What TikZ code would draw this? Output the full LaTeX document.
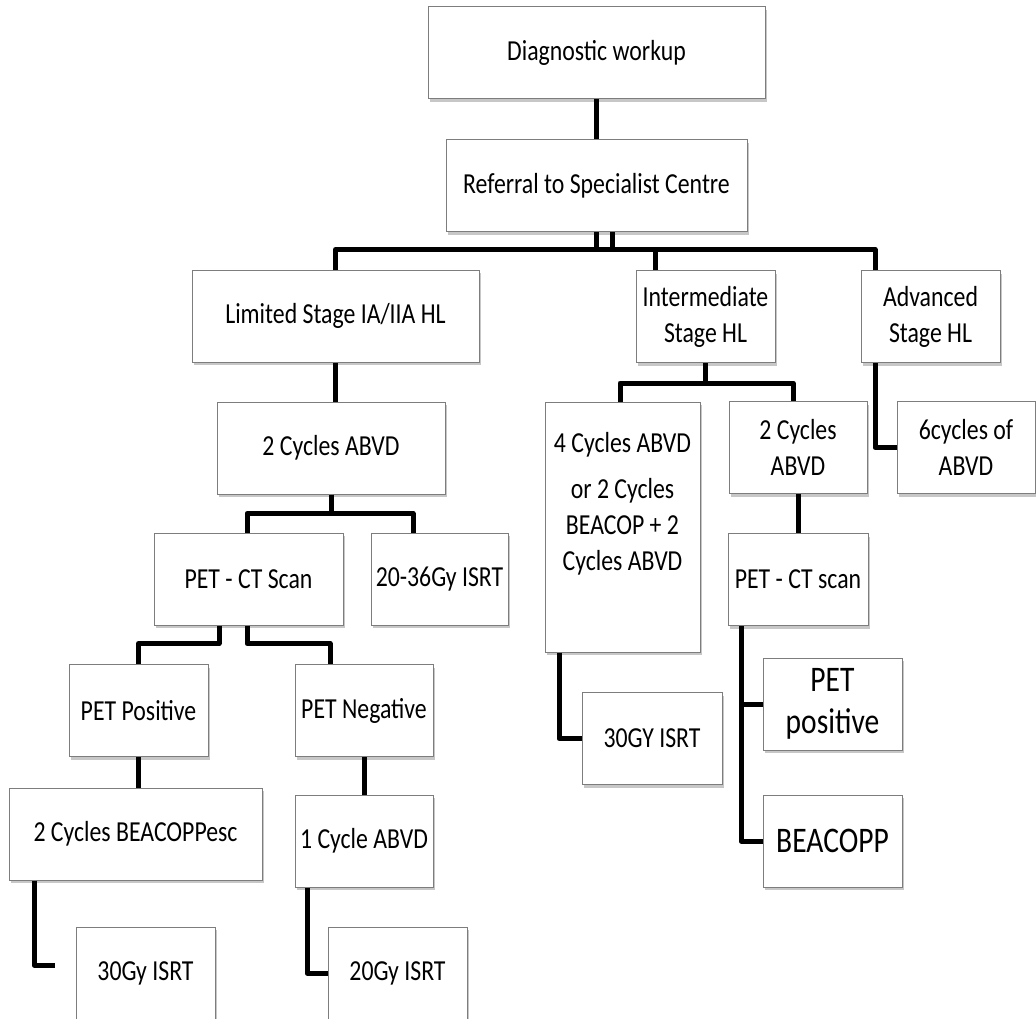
\documentclass[tikz,border=0pt]{standalone}
\usepackage{fontspec}
\setmainfont{Carlito}[FakeStretch=0.82]
\usetikzlibrary{positioning, shadows}
\definecolor{flowborder}{RGB}{125, 125, 125}
\definecolor{flowshadow}{RGB}{175, 175, 175}

\begin{document}
\begin{tikzpicture}[
  x=1pt, y=1pt,
  box/.style={rectangle, draw=flowborder, fill=white, line width=1pt,
              minimum height=92pt, inner sep=1pt, align=center,
              font=\fontsize{29}{36}\selectfont,
              drop shadow={shadow xshift=2pt, shadow yshift=-3pt, fill=flowshadow, opacity=0.7}},
  bigbox/.style={box, font=\fontsize{36}{42}\selectfont},
  link/.style={line width=5pt, line join=round},
]
  \useasboundingbox (0,0) rectangle (1036,-1019);

  \node[box, minimum width=337pt] (diag) at (596.5,-53) {Diagnostic workup};
  \node[box, minimum width=301pt, below=40pt of diag] (ref) {Referral to Specialist Centre};
  \node[box, minimum width=287pt] (limited) at (335.5,-316) {Limited Stage IA/IIA HL};
  \node[box, minimum width=139pt] (inter) at (705.5,-316.5) {Intermediate\\Stage HL};
  \node[box, minimum width=139pt] (adv) at (930.5,-316.5) {Advanced\\Stage HL};

  \node[box, minimum width=155pt, minimum height=250pt, text height=167pt, text depth=81pt]
    (four) at (622.5,-527) {4 Cycles ABVD\\[10pt]or 2 Cycles\\BEACOP + 2\\Cycles ABVD};
  \node[box, minimum width=228pt] (lcyc) at (331,-448) {2 Cycles ABVD};
  \node[box, minimum width=138pt] (icyc) at (798,-447.5) {2 Cycles\\ABVD};
  \node[box, minimum width=138pt] (six) at (966,-447.5) {6cycles of\\ABVD};

  \node[box, minimum width=189pt] (lpet) at (248.5,-579) {PET - CT Scan};
  \node[box, minimum width=137pt] (lisrt) at (439.5,-579) {20-36Gy ISRT};
  \node[box, minimum width=140pt] (ipet) at (798,-579.5) {PET - CT scan};

  \node[box, minimum width=139pt] (ppos) at (138.5,-710.5) {PET Positive};
  \node[box, minimum width=138pt] (pneg) at (364,-710.5) {PET Negative};
  \node[box, minimum width=140pt] (isrtgy) at (652,-738.5) {30GY ISRT};
  \node[bigbox, minimum width=139pt] (ipos) at (832.5,-704) {PET\\positive};
  \node[bigbox, minimum width=139pt] (beacopp) at (832.5,-841) {BEACOPP};

  \node[box, minimum width=253pt] (besc) at (135.5,-834) {2 Cycles BEACOPPesc};
  \node[box, minimum width=138pt] (onecyc) at (364,-841) {1 Cycle ABVD};
  \node[box, minimum width=139pt] (isrt30) at (145.5,-973) {30Gy ISRT};
  \node[box, minimum width=139pt] (isrt20) at (397.5,-973) {20Gy ISRT};

  % top of the tree
  \draw[link] (diag) -- (ref);
  \draw[link] (ref.south) -- ++(0,-17) -| ([xshift=-50.5pt]inter.north);
  \draw[link] ([xshift=16pt]ref.south) -- ++(0,-17) -| (limited.north);
  \draw[link] ([xshift=16pt]ref.south) -- ++(0,-17) -| ([xshift=-55.5pt]adv.north);

  % limited stage
  \draw[link] (limited.south) -- (limited.south |- lcyc.north);
  \draw[link] (lcyc.south) -- ++(0,-19) -| ([xshift=-1.5pt]lpet.north);
  \draw[link] (lcyc.south) -- ++(0,-19) -| ([xshift=-26.5pt]lisrt.north);
  \draw[link] ([xshift=-29.5pt]lpet.south) -- ++(0,-18) -| (ppos.north);
  \draw[link] ([xshift=-1.5pt]lpet.south) -- ++(0,-18) -| ([xshift=-34pt]pneg.north);
  \draw[link] (ppos.south) -- (ppos.south |- besc.north);
  \draw[link] (pneg.south) -- (onecyc.north);
  \draw[link, shorten >=21pt] ([xshift=-101.5pt]besc.south) |- ([yshift=8pt]isrt30.west);
  \draw[link] ([xshift=-57pt]onecyc.south) |- (isrt20.west);

  % intermediate and advanced stage
  \draw[link] (inter.south) -- ++(0,-20) -| ([xshift=-2.5pt]four.north);
  \draw[link] (inter.south) -- ++(0,-20) -| ([xshift=-5pt]icyc.north);
  \draw[link] ([xshift=-55.5pt]adv.south) |- (six.west);
  \draw[link] ([xshift=-63.5pt]four.south) |- (isrtgy.west);
  \draw[link] (icyc) -- (ipet);
  \draw[link] ([xshift=-57pt]ipet.south) |- (ipos.west);
  \draw[link] ([xshift=-57pt]ipet.south) |- (beacopp.west);
\end{tikzpicture}
\end{document}
